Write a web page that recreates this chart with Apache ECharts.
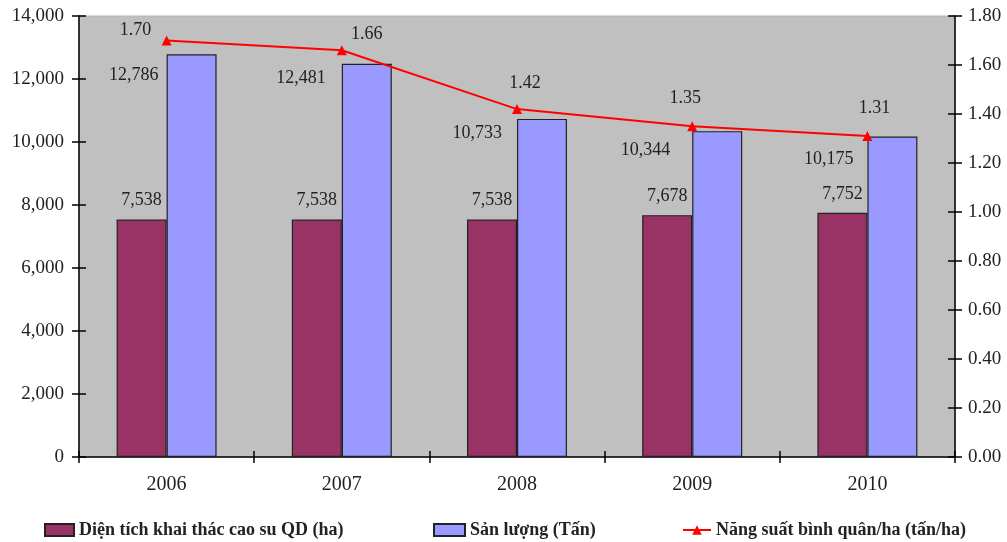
<!DOCTYPE html>
<html>
<head>
<meta charset="utf-8">
<script src="https://cdn.jsdelivr.net/npm/echarts@6/dist/echarts.min.js"></script>
<style>
  html, body { margin: 0; padding: 0; background: #fff; }
  #chart { width: 1007px; height: 542px; }
</style>
</head>
<body>
<div id="chart"></div>
<script>
// Rubber harvesting: area, output and average yield per hectare, 2006-2010
const years = ['2006', '2007', '2008', '2009', '2010'];
const areaHa = [7538, 7538, 7538, 7678, 7752];
const outputTon = [12786, 12481, 10733, 10344, 10175];
const yieldPerHa = [1.70, 1.66, 1.42, 1.35, 1.31];

const areaName = 'Diện tích khai thác cao su QD (ha)';
const outputName = 'Sản lượng (Tấn)';
const yieldName = 'Năng suất bình quân/ha (tấn/ha)';

// label placement for the output bars (relative to bar top-left) and the yield points
const outputLabelPos = [[-8, 21], [-16, 14], [-15, 14], [-22, 19], [-14, 23]];
const yieldLabelShift = [[-31, -10], [25, -16], [8, -26], [-7, -28], [7, -28]];

const FONT = '"Liberation Serif", "DejaVu Serif", serif';
const fmtThousands = v => Math.round(v).toLocaleString('en-US');

const chart = echarts.init(document.getElementById('chart'));

const legendText = { fontFamily: FONT, fontSize: 18, fontWeight: 'bold', color: '#222' };
const tickStyle = { color: '#000', width: 1.5 };

chart.setOption({
  animation: false,
  backgroundColor: '#ffffff',
  grid: {
    left: 79, right: 52, top: 16, bottom: 85,
    show: true, backgroundColor: '#C0C0C0', borderColor: '#b4b4b4', borderWidth: 1
  },
  legend: [
    { left: 44, top: 521, padding: 0, itemWidth: 29, itemHeight: 12, itemGap: 0, icon: 'rect',
      data: [areaName], textStyle: legendText },
    { left: 433, top: 521, padding: 0, itemWidth: 31, itemHeight: 12, itemGap: 0, icon: 'rect',
      data: [outputName], textStyle: legendText },
    { left: 682, top: 521, padding: 0, itemWidth: 28, itemHeight: 12, itemGap: 0,
      data: [yieldName], textStyle: legendText }
  ],
  xAxis: [
    {
      type: 'category', data: years, boundaryGap: true,
      axisLine: { lineStyle: { color: '#000', width: 1.5 } },
      axisTick: { show: true, length: 6, lineStyle: tickStyle },
      axisLabel: { fontFamily: FONT, fontSize: 20, color: '#222', margin: 18 }
    },
    {
      type: 'category', data: years, position: 'bottom', boundaryGap: true,
      axisLine: { show: false },
      axisTick: { show: true, inside: true, length: 6, lineStyle: tickStyle },
      axisLabel: { show: false }
    }
  ],
  yAxis: [
    {
      type: 'value', min: 0, max: 14000, interval: 2000, position: 'left',
      splitLine: { show: false },
      axisLine: { show: true, lineStyle: { color: '#000', width: 1.5 } },
      axisTick: { show: true, length: 7, lineStyle: tickStyle },
      axisLabel: { fontFamily: FONT, fontSize: 19, color: '#222', margin: 15, formatter: fmtThousands }
    },
    {
      type: 'value', min: 0, max: 1.8, interval: 0.2, position: 'right',
      splitLine: { show: false },
      axisLine: { show: true, lineStyle: { color: '#000', width: 1.5 } },
      axisTick: { show: true, length: 7, lineStyle: tickStyle },
      axisLabel: { fontFamily: FONT, fontSize: 19, color: '#222', margin: 13, formatter: v => v.toFixed(2) }
    },
    {
      type: 'value', min: 0, max: 14000, interval: 2000, position: 'left',
      splitLine: { show: false }, axisLine: { show: false }, axisLabel: { show: false },
      axisTick: { show: true, inside: true, length: 7, lineStyle: tickStyle }
    },
    {
      type: 'value', min: 0, max: 1.8, interval: 0.2, position: 'right',
      splitLine: { show: false }, axisLine: { show: false }, axisLabel: { show: false },
      axisTick: { show: true, inside: true, length: 7, lineStyle: tickStyle }
    }
  ],
  series: [
    {
      name: areaName, type: 'bar', data: areaHa,
      xAxisIndex: 0, yAxisIndex: 0,
      barWidth: 50, barGap: '0%',
      itemStyle: { color: '#993366', borderColor: '#222', borderWidth: 1.2 },
      label: {
        show: true, position: 'top', distance: 10,
        fontFamily: FONT, fontSize: 18, color: '#222', formatter: p => fmtThousands(p.value)
      }
    },
    {
      name: outputName, type: 'bar',
      data: outputTon.map((v, i) => ({
        value: v,
        label: { position: outputLabelPos[i] }
      })),
      xAxisIndex: 0, yAxisIndex: 0,
      barWidth: 50, barGap: '0%',
      itemStyle: { color: '#9999FF', borderColor: '#222', borderWidth: 1.2 },
      label: {
        show: true, align: 'right', verticalAlign: 'middle',
        fontFamily: FONT, fontSize: 18, color: '#222', formatter: p => fmtThousands(p.value)
      }
    },
    {
      name: yieldName, type: 'line',
      data: yieldPerHa.map((v, i) => ({
        value: v,
        label: { offset: yieldLabelShift[i] }
      })),
      xAxisIndex: 0, yAxisIndex: 1,
      symbol: 'triangle', symbolSize: 10,
      lineStyle: { color: '#FF0000', width: 2 },
      itemStyle: { color: '#FF0000' },
      z: 5,
      label: {
        show: true, position: 'inside', align: 'center', verticalAlign: 'middle',
        fontFamily: FONT, fontSize: 18, color: '#222', formatter: p => p.value.toFixed(2)
      }
    }
  ]
});
</script>
</body>
</html>
